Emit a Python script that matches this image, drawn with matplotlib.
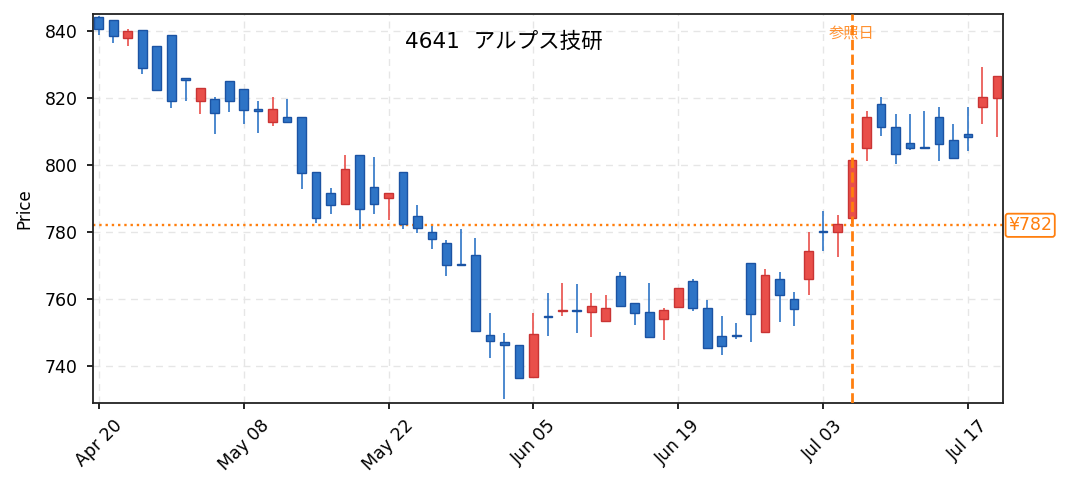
import numpy as np
import pandas as pd
import matplotlib
matplotlib.use("Agg")
import matplotlib.pyplot as plt
import matplotlib.transforms as mtransforms

plt.rcParams['font.family'] = ['DejaVu Sans', 'Noto Sans CJK JP']

# trading days (Golden Week gaps removed)
dates = pd.bdate_range("2023-04-20", "2023-07-19", freq="C",
                       holidays=["2023-05-03", "2023-05-04"])

opens = [844.0, 843.1, 837.9, 840.4, 835.6, 838.9, 825.8, 819.1, 819.8, 824.9,
         822.8, 816.6, 812.8, 814.4, 814.4, 798.0, 791.5, 788.3, 803.1, 793.3,
         790.0, 798.0, 784.9, 779.9, 776.6, 770.4, 773.2, 749.3, 747.2, 746.4,
         736.7, 754.8, 756.4, 756.8, 756.1, 753.4, 767.0, 758.9, 756.2, 754.0,
         757.5, 765.5, 757.2, 749.0, 749.1, 770.7, 750.1, 766.1, 760.1, 765.9,
         780.2, 780.0, 784.1, 805.1, 818.3, 811.4, 806.4, 805.3, 814.4, 807.3,
         809.3, 817.2, 820.1]
highs = [844.5, 843.1, 840.5, 840.4, 835.6, 838.9, 825.9, 823.1, 820.2, 824.9,
         822.8, 819.1, 820.2, 819.7, 814.4, 798.0, 793.1, 803.0, 803.1, 802.5,
         791.5, 798.0, 788.1, 781.8, 777.6, 780.9, 778.2, 755.9, 749.9, 746.4,
         755.8, 761.8, 764.8, 764.5, 761.8, 761.2, 768.0, 758.9, 764.8, 757.3,
         763.4, 766.0, 759.7, 754.9, 752.8, 770.7, 769.0, 768.1, 762.1, 780.0,
         786.3, 785.1, 801.4, 816.1, 820.2, 815.1, 815.1, 816.1, 817.2, 812.2,
         817.3, 829.2, 826.4]
lows = [838.8, 836.5, 835.6, 827.0, 822.4, 817.1, 819.2, 815.3, 809.3, 815.9,
        812.3, 809.6, 811.7, 812.8, 792.9, 782.6, 785.4, 788.3, 781.0, 785.4,
        783.6, 781.0, 779.8, 775.0, 767.0, 770.2, 750.4, 742.5, 730.2, 736.3,
        736.7, 749.0, 755.0, 750.0, 748.6, 753.0, 757.9, 752.3, 748.8, 747.8,
        757.5, 756.5, 745.3, 743.4, 748.2, 747.3, 750.1, 753.2, 752.0, 761.3,
        774.2, 772.4, 782.6, 801.3, 808.5, 800.4, 804.5, 805.1, 801.3, 802.1,
        804.3, 812.3, 808.4]
closes = [840.5, 838.5, 840.1, 829.0, 822.4, 819.2, 825.2, 823.1, 815.5, 819.1,
          816.4, 816.2, 816.6, 812.8, 797.6, 784.2, 788.0, 798.7, 786.8, 788.3,
          791.5, 782.5, 781.2, 777.8, 770.1, 770.2, 750.4, 747.4, 746.3, 736.3,
          749.6, 754.5, 756.8, 756.5, 758.0, 757.4, 757.9, 755.8, 748.8, 756.8,
          763.4, 757.2, 745.3, 745.9, 748.9, 755.4, 767.3, 761.1, 756.9, 774.2,
          780.0, 782.4, 801.4, 814.4, 811.3, 803.3, 805.1, 805.1, 806.3, 802.1,
          808.4, 820.4, 826.4]

ticker = "4641  アルプス技研"
ref_price = 782
ref_idx = 52

o = np.array(opens); h = np.array(highs); l = np.array(lows); c = np.array(closes)
x = np.arange(len(o))
up = c >= o

fig = plt.figure(figsize=(10.69, 4.92), dpi=100)
ax = fig.add_axes([0.087, 0.181, 0.851, 0.791])

ax.grid(True, color="#e6e6e6", linestyle=(0, (5, 4)), linewidth=1.0, zorder=0)
ax.set_axisbelow(True)

up_face, up_edge = "#e94f4a", "#c93434"
dn_face, dn_edge = "#2e74c6", "#1b53a3"

ax.vlines(x[up], l[up], h[up], color=up_face, linewidth=1.2, zorder=2)
ax.vlines(x[~up], l[~up], h[~up], color=dn_face, linewidth=1.2, zorder=2)

body_lo = np.minimum(o, c)
body_h = np.maximum(np.abs(c - o), 0.35)
ax.bar(x[up], body_h[up], bottom=body_lo[up], width=0.6,
       color=up_face, edgecolor=up_edge, linewidth=1.0, zorder=3)
ax.bar(x[~up], body_h[~up], bottom=body_lo[~up], width=0.6,
       color=dn_face, edgecolor=dn_edge, linewidth=1.0, zorder=3)

# reference lines
ax.axhline(ref_price, color="#ff7f0e", linestyle=":", linewidth=1.7, zorder=1)
ax.axvline(ref_idx, color="#ff7f0e", linestyle="--", linewidth=2.0, zorder=4)
ax.text(ref_idx, 0.95, "参照日", transform=mtransforms.blended_transform_factory(ax.transData, ax.transAxes),
        ha="center", va="center", color="#ff7f0e", alpha=0.85, fontsize=11)
ax.text(1.006, ref_price, f"¥{ref_price}",
        transform=mtransforms.blended_transform_factory(ax.transAxes, ax.transData),
        ha="left", va="center", color="#ff7f0e", fontsize=12.5,
        bbox=dict(boxstyle="round,pad=0.15", facecolor="white", edgecolor="#ff7f0e", linewidth=1.3),
        clip_on=False)

ax.text(0.452, 0.927, ticker, transform=ax.transAxes, ha="center", va="center", fontsize=15.5)

ax.set_xlim(-0.4, 62.4)
ax.set_ylim(729.0, 845.1)
ax.set_yticks([740, 760, 780, 800, 820, 840])
ticks = list(range(0, len(dates), 10))
ax.set_xticks(ticks)
ax.set_xticklabels([dates[i].strftime("%b %d") for i in ticks], rotation=45, ha="center")
ax.tick_params(labelsize=12.5, length=4, width=1.2)
ax.tick_params(axis="x", pad=6)
ax.tick_params(axis="y", pad=7)
ax.set_ylabel("Price", fontsize=12, labelpad=8)
for s in ax.spines.values():
    s.set_linewidth(1.3)
    s.set_color("#222222")

fig.savefig("out.png", dpi=100)
